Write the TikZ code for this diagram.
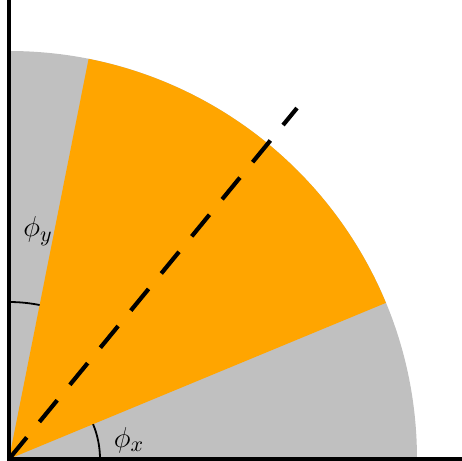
\documentclass[tikz,border=0pt]{standalone}
\usepackage{tikz}
\definecolor{weborange}{RGB}{255,165,0}
\definecolor{silvergray}{RGB}{192,192,192}
\begin{document}
\begin{tikzpicture}[x=0.5pt,y=0.5pt,
  axisline/.style={line width=1.7pt},
  anglearc/.style={line width=0.9pt},
  midline/.style={line width=2.1pt,dash pattern=on 14pt off 10pt},
  lbl/.style={font=\fontsize{15}{18}\selectfont}]
\useasboundingbox (-9,-2) rectangle (453,459);
\coordinate (O) at (0,0);
\fill[silvergray] (O) -- (408,0) arc[start angle=0,end angle=90,radius=408] -- cycle;
\fill[weborange] (O) -- (22.5:408) arc[start angle=22.5,end angle=78.75,radius=408] -- cycle;
\coordinate (E) at (50.625:454);
\draw[midline] (O) -- (E);
\draw[anglearc] (0:91) arc[start angle=0,end angle=22.5,radius=91];
\draw[anglearc] (78.75:157) arc[start angle=78.75,end angle=90,radius=157];
\node[lbl] (px) at (120,19) {$\phi_x$};
\node[lbl] (py) at (29,228) {$\phi_y$};
\coordinate (YT) at (0,459);
\coordinate (XR) at (453,0);
\draw[axisline] (YT) -- (O) -- (XR);
\end{tikzpicture}
\end{document}
